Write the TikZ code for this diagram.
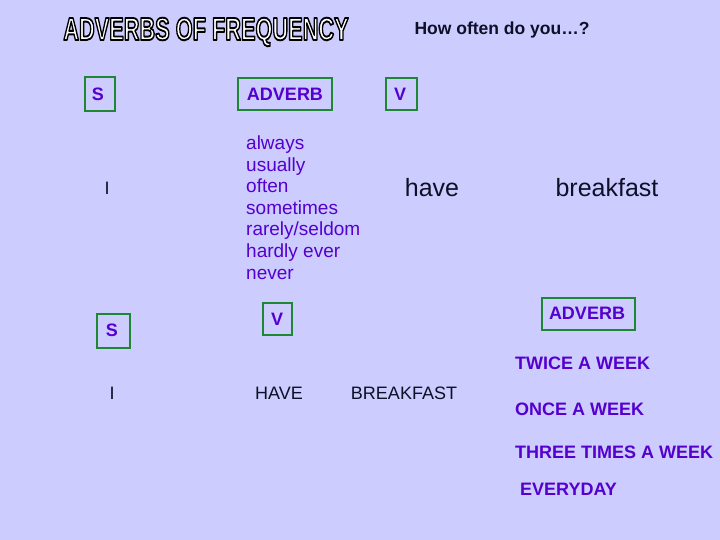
\documentclass[tikz,border=0pt]{standalone}
\usepackage{fontspec}
\setmainfont{Liberation Sans}
\definecolor{bg}{RGB}{204,204,255}
\definecolor{pur}{RGB}{85,0,205}
\definecolor{grn}{RGB}{30,135,50}
\definecolor{ink}{RGB}{15,15,40}
\newcommand{\outlinetext}[1]{\special{pdf:literal direct q 2 Tr 1.9 w 1 j 0 G}#1\special{pdf:literal direct Q}}
\begin{document}
\begin{tikzpicture}[x=1pt,y=-1pt,
  lab/.style={inner sep=0pt, font=\fontsize{18}{20}\selectfont\bfseries, text=pur},
  listtxt/.style={inner sep=0pt, anchor=base west, font=\fontsize{19}{21}\selectfont, text=pur},
  bigtxt/.style={inner sep=0pt, font=\fontsize{25}{28}\selectfont, text=ink},
  captxt/.style={inner sep=0pt, font=\fontsize{18}{20}\selectfont, text=ink},
  freq/.style={inner sep=0pt, anchor=west, font=\fontsize{18}{20}\selectfont\bfseries, text=pur, text height=13pt, text depth=0pt},
  boxed/.style={draw=grn, line width=2.5pt, fill=none},
  titletxt/.style={inner sep=0pt, font=\fontsize{32}{36}\selectfont\bfseries},
]
\useasboundingbox[fill=bg] (0,0) rectangle (720,540);

% title with outline
\node[titletxt, text=white] (title) at (206,32) {\scalebox{0.68}[1]{\outlinetext{ADVERBS OF FREQUENCY}}};

\node[inner sep=0pt, font=\fontsize{17.5}{19}\selectfont\bfseries, text=ink] (how) at (502,30) {How often do you\ldots?};

% top row
\draw[boxed] (85,77) rectangle (115,111);
\node[lab] (s1) at (98,94) {S};
\draw[boxed] (238,78) rectangle (332,110);
\node[lab] (adv1) at (285,94) {ADVERB};
\draw[boxed] (386,78) rectangle (417,110);
\node[lab] (v1) at (400,94) {V};

\node[captxt] (i1) at (107,188) {I};
\node[listtxt] (l1) at (246,150) {always};
\node[listtxt] (l2) at (246,171.5) {usually};
\node[listtxt] (l3) at (246,193) {often};
\node[listtxt] (l4) at (246,214.5) {sometimes};
\node[listtxt] (l5) at (246,236) {rarely/seldom};
\node[listtxt] (l6) at (246,257.5) {hardly ever};
\node[listtxt] (l7) at (246,279) {never};
\node[bigtxt] (have1) at (432,188) {have};
\node[bigtxt] (bf1) at (607,188) {breakfast};

% bottom row
\draw[boxed] (97,314) rectangle (130,348);
\node[lab] (s2) at (112,330) {S};
\draw[boxed] (263,303) rectangle (292,335);
\node[lab] (v2) at (277,319) {V};
\draw[boxed] (542,298) rectangle (635,330);
\node[lab] (adv2) at (587,313) {ADVERB};

\node[captxt] (i2) at (112,393) {I};
\node[captxt] (have2) at (279,393) {HAVE};
\node[captxt] (bf2) at (404,393) {BREAKFAST};

\node[freq] (f1) at (515,363) {TWICE A WEEK};
\node[freq] (f2) at (515,409) {ONCE A WEEK};
\node[freq] (f3) at (515,452) {THREE TIMES A WEEK};
\node[freq] (f4) at (520,489) {EVERYDAY};
\end{tikzpicture}
\end{document}
